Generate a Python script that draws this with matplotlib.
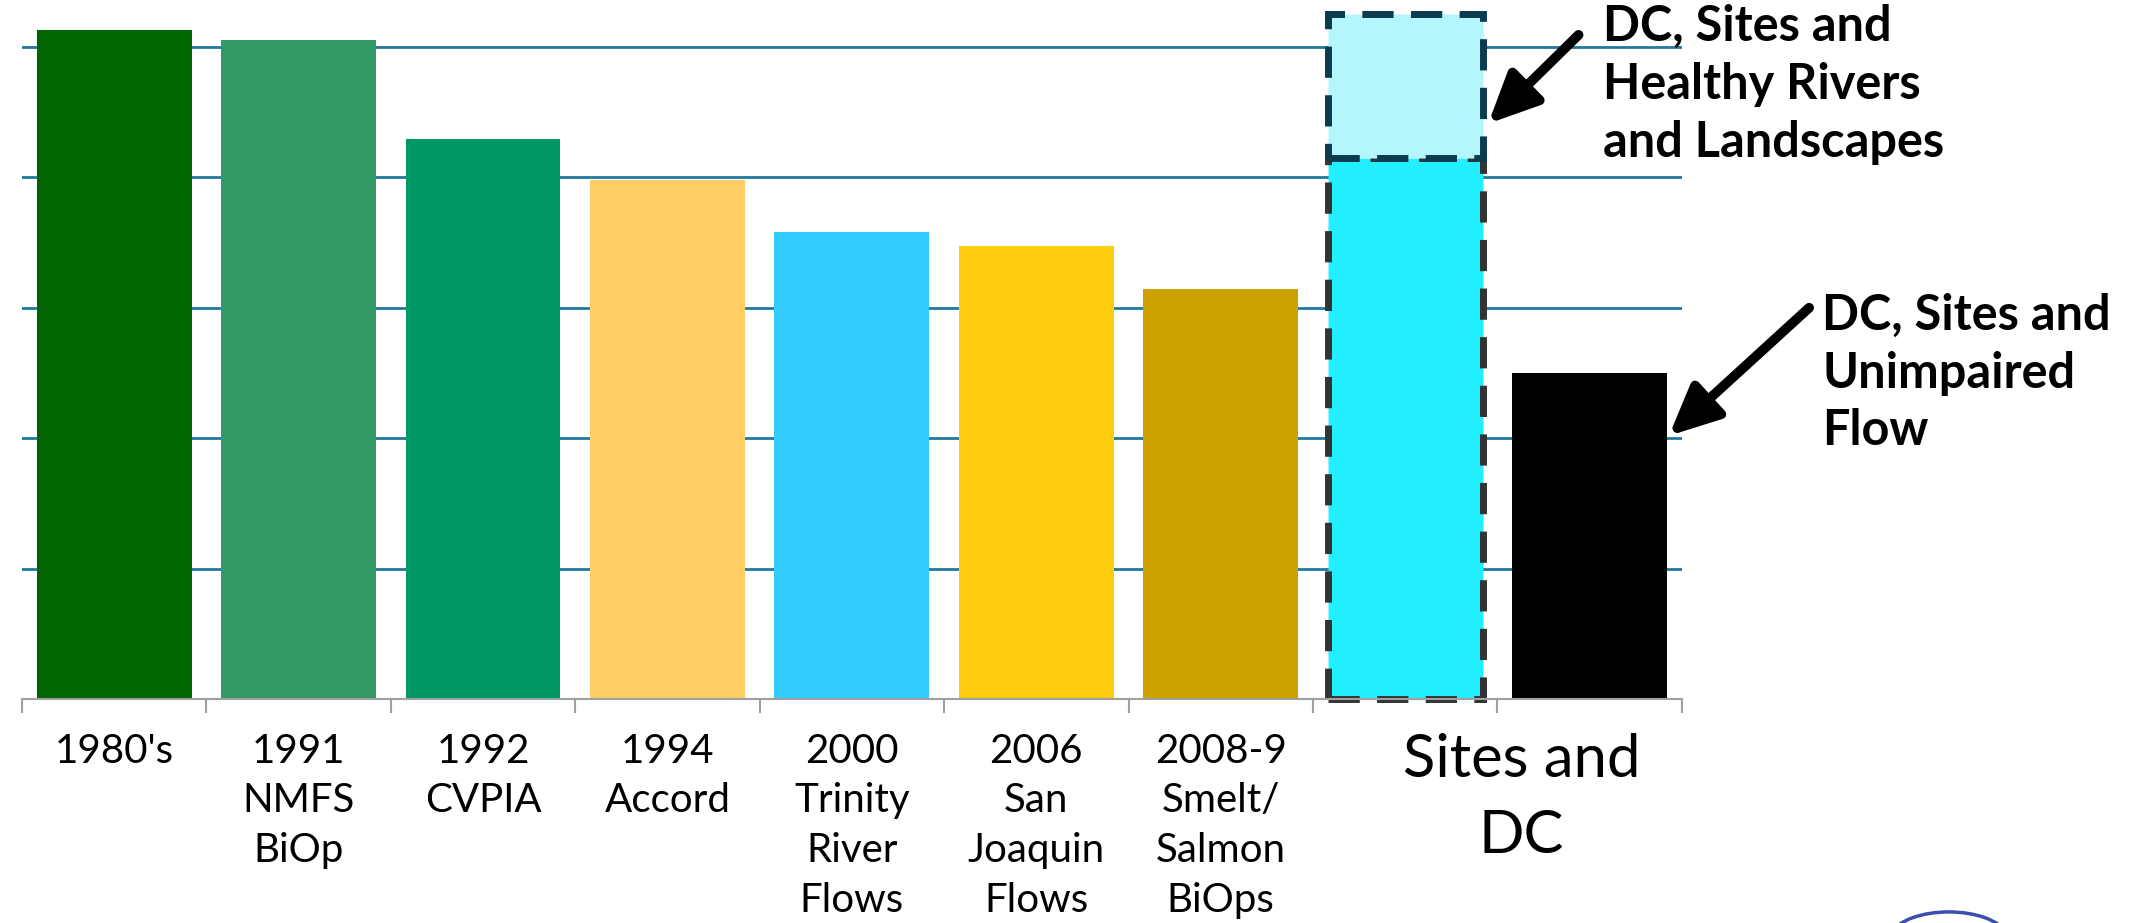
import matplotlib
matplotlib.use("Agg")
import matplotlib.pyplot as plt
from matplotlib.patches import Arc
import numpy as np

plt.rcParams['font.family'] = ['Lato', 'DejaVu Sans']

# water supply levels (arbitrary units, one gridline = 1)
labels = ["1980's", "1991\nNMFS\nBiOp", "1992\nCVPIA", "1994\nAccord",
          "2000\nTrinity\nRiver\nFlows", "2006\nSan\nJoaquin\nFlows",
          "2008-9\nSmelt/\nSalmon\nBiOps", "Sites and\nDC"]
values = [5.13, 5.05, 4.29, 3.98, 3.58, 3.47, 3.14, 4.15, 2.50]
colors = ['#006400', '#339966', '#009966', '#FFCC66', '#33CCFF',
          '#FECD10', '#CBA100', '#22EFFF', '#000000']

# healthy rivers and landscapes extra on top of Sites and DC
extra_base = 4.15
extra_value = 1.10

fig = plt.figure(figsize=(21.51, 9.23), dpi=100)
ax = fig.add_axes([0.0102, 0.2422, 0.7717, 0.7578])

x = np.arange(len(values))
w = 0.84
bars = ax.bar(x, values, width=w, color=colors, zorder=2)

# dashed outline around the Sites and DC bar
bars[7].set_edgecolor('#333333')
bars[7].set_linewidth(5)
bars[7].set_linestyle((0, (4.5, 2.5)))
bars[7].set_clip_on(False)

ax.bar(x[7], extra_value, bottom=extra_base, width=w, color='#B3F7FC',
       edgecolor='#0B3B4F', linewidth=5, linestyle=(0, (4.5, 2.5)),
       zorder=3, clip_on=False)

ax.set_xlim(-0.5, len(values) - 0.5)
ax.set_ylim(0, 5.357)

ax.set_yticks([1, 2, 3, 4, 5])
ax.set_yticklabels([])
ax.tick_params(axis='y', length=0)
ax.grid(axis='y', color='#1F7A9E', linewidth=2)
ax.set_axisbelow(True)

for s in ['top', 'right', 'left']:
    ax.spines[s].set_visible(False)
ax.spines['bottom'].set_color('#A0A0A0')
ax.spines['bottom'].set_linewidth(1.5)

# the "Sites and DC" label sits a bit right of its bar, shared with the last one
tick_pos = list(x[:7]) + [7.63]
ax.set_xticks(tick_pos)
ax.set_xticklabels(labels, fontsize=29, linespacing=1.42)
ax.set_xticks(np.arange(-0.5, len(values)), minor=True)
ax.tick_params(axis='x', which='major', length=0, pad=24)
ax.tick_params(axis='x', which='minor', length=10, width=1.5, color='#A0A0A0')
ax.get_xticklabels()[7].set_fontsize(43)
ax.get_xticklabels()[7].set_linespacing(1.5)

# callouts
ax.text(8.07, 4.71, "DC, Sites and\nHealthy Rivers\nand Landscapes",
        fontsize=35, fontweight='bold', va='center', ha='left',
        linespacing=1.35, clip_on=False)
ax.text(9.26, 2.50, "DC, Sites and\nUnimpaired\nFlow",
        fontsize=35, fontweight='bold', va='center', ha='left',
        linespacing=1.35, clip_on=False)

arrow = dict(arrowstyle='-|>,head_width=0.35,head_length=0.75', lw=7,
             color='black', mutation_scale=40, shrinkA=0, shrinkB=0)
ax.annotate('', xy=(7.45, 4.41), xytext=(7.94, 5.09), arrowprops=arrow,
            annotation_clip=False)
ax.annotate('', xy=(8.43, 2.02), xytext=(9.19, 3.0), arrowprops=arrow,
            annotation_clip=False)

# edge of a logo peeking in at the bottom right
logo = Arc((0.906, -0.018), 0.055, 0.06, theta1=15, theta2=165,
           transform=fig.transFigure, color='#3A4FB0', lw=2.5)
fig.add_artist(logo)

fig.savefig('out.png', dpi=100)
